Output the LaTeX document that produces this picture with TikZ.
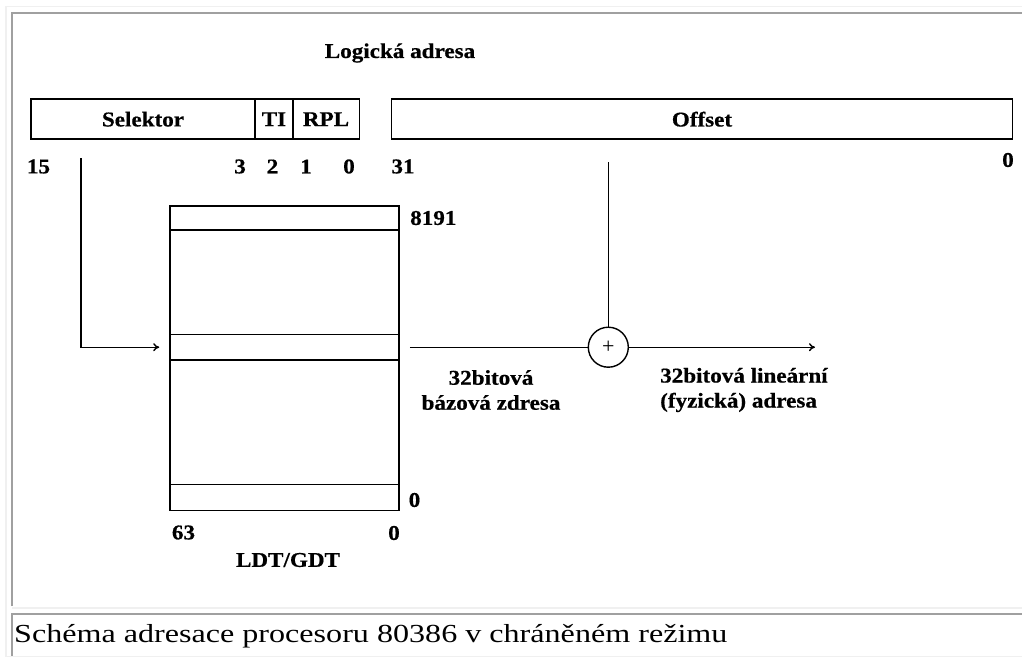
\documentclass[tikz,border=0pt]{standalone}
\usepackage{fontspec}
\setmainfont{Liberation Serif}
\newfontfamily\dfont[FakeStretch=1.1,FakeBold=0.6]{Liberation Serif}
\newfontfamily\cfont[FakeStretch=1.235]{Liberation Serif}
\usetikzlibrary{arrows.meta}
\definecolor{bordlight}{HTML}{F0F0F0}
\definecolor{borddark}{HTML}{A0A0A0}
\begin{document}
\begin{tikzpicture}[x=1pt,y=-1pt,
  lbl/.style={font=\dfont\bfseries\fontsize{21}{25}\selectfont, inner sep=0pt},
  field/.style={draw, line width=1.5pt, rectangle, inner sep=0pt, minimum height=40pt, lbl},
  row/.style={draw, line width=1.5pt, rectangle, inner sep=0pt, minimum width=229pt},
  conn/.style={line width=1.4pt},
  arr/.style={conn, -{To[length=6pt,width=8pt]}},
  light/.style={draw=bordlight, line width=1.5pt},
  dark/.style={draw=borddark, line width=2pt},
  ]
\useasboundingbox (0,0) rectangle (1022,657);
\fill[white] (0,0) rectangle (1022,657);
% HTML table borders
\draw[light] (6,657) -- (6,6.5) -- (1022,6.5);
\draw[dark] (11.8,606) -- (11.8,12.5) -- (1022,12.5);
\draw[light] (12,608) -- (1022,608);
\draw[dark] (11.8,657) -- (11.8,613.5) -- (1022,613.5);
\draw[light] (6,656.5) -- (1022,656.5);

% title
\node[lbl] (title) at (400,53) {Logická adresa};

% logical address fields
\node[field, minimum width=224pt] (selektor) at (143,119.2) {Selektor};
\node[field, minimum width=37.7pt] (ti) at (273.9,119.2) {TI};
\node[field, minimum width=66.6pt] (rpl) at (326,119.2) {RPL};
\node[field, minimum width=620.6pt] (offset) at (702,119.2) {Offset};

% bit numbers
\node[lbl] (b15) at (38.5,166.5) {15};
\node[lbl] (b3) at (240,166.5) {3};
\node[lbl] (b2) at (272.5,166.5) {2};
\node[lbl] (b1) at (306,166.5) {1};
\node[lbl] (b0) at (349,166.5) {0};
\node[lbl] (b31) at (403,166.5) {31};
\node[lbl] (bo0) at (1008,160) {0};

% descriptor table
\node[row, minimum height=304.7pt] (tbl) at (284.5,358.35) {};
\node[row, minimum height=24pt] (rtop) at (284.5,218) {};
\node[row, minimum height=25.7pt] (rsel) at (284.5,347.2) {};
\node[row, minimum height=26.4pt] (rbot) at (284.5,497.5) {};
\node[lbl, anchor=west] (n8191) at (410,218) {8191};
\node[lbl] (nr0) at (414.5,500) {0};
\node[lbl] (n63) at (183.5,532.5) {63};
\node[lbl] (nc0) at (394,533) {0};
\node[lbl] (ldt) at (288,560) {LDT/GDT};

% adder
\node[draw, circle, line width=1.4pt, minimum size=40pt, inner sep=0pt,
      font=\fontsize{22}{22}\selectfont] (plus) at (608.3,347.2) {+};

% connectors
\coordinate (s0) at (81,158);
\draw[arr] (s0) |- ([xshift=-10pt]rsel.west);
\draw[conn] ([xshift=10pt]rsel.east) -- (plus.west);
\coordinate (o0) at (608.3,162);
\draw[conn] (o0) -- (plus.north);
\coordinate (out) at (815,347.2);
\draw[arr] (plus.east) -- (out);

% labels
\node[lbl, align=center] (base) at (491,390) {32bitová\\bázová zdresa};
\node[lbl, align=left, anchor=west] (lin) at (660,390) {32bitová lineární\\(fyzická) adresa};

% caption
\node[anchor=base west, inner sep=0pt, font=\cfont\fontsize{26}{30}\selectfont] (cap) at (14,642)
  {Schéma adresace procesoru 80386 v chráněném režimu};
\end{tikzpicture}
\end{document}
